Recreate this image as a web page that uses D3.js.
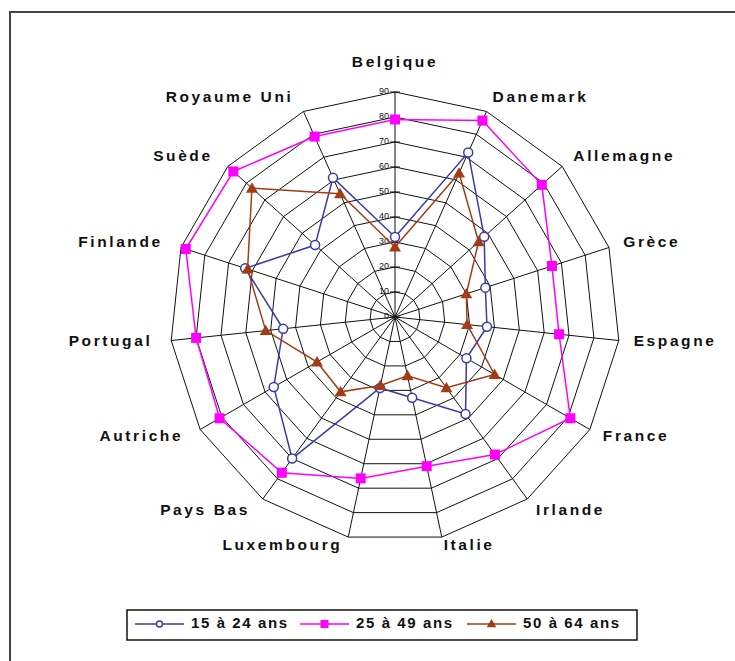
<!DOCTYPE html>
<html><head><meta charset="utf-8">
<script src="https://cdn.jsdelivr.net/npm/d3@7"></script>
<style>body{margin:0;background:#fff}svg{display:block}</style>
</head><body>
<svg id="c" width="735" height="661"></svg>
<script>
const categories = ["Belgique","Danemark","Allemagne","Grèce","Espagne","France","Irlande","Italie","Luxembourg","Pays Bas","Autriche","Portugal","Finlande","Suède","Royaume Uni"];
const s15_24 = [32,72,48,38,37,33,48,33,29,70,56,45,63,43,61];
const s25_49 = [79,86,79,66,66,81,68,61,66,77,81,80,88,87,79];
const s50_64 = [28,63,45,30,29,46,35,24,28,37,36,52,62,77,54];
const tickValues = [0,10,20,30,40,50,60,70,80,90];
const seriesNames = ["15 à 24 ans","25 à 49 ans","50 à 64 ans"];

const svg = d3.select("#c");
const cx = 395, cy = 317;
const r = d3.scaleLinear().domain([0,90]).range([0,225]);
const n = categories.length;
const ang = d3.scaleLinear().domain([0,n]).range([0,2*Math.PI]);
const px = (i,v)=> cx + r(v)*Math.sin(ang(i));
const py = (i,v)=> cy - r(v)*Math.cos(ang(i));

// frame
svg.append("rect").attr("x",10).attr("y",12).attr("width",760).attr("height",700)
  .attr("fill","none").attr("stroke","#444").attr("stroke-width",2);

const g = svg.append("g");
// rings
tickValues.slice(1).forEach(v=>{
  const pts = d3.range(n).map(i=>[px(i,v),py(i,v)]);
  g.append("polygon").attr("points",pts.map(p=>p.join(",")).join(" "))
    .attr("fill","none").attr("stroke","#111").attr("stroke-width",1);
});
// spokes
d3.range(n).forEach(i=>{
  g.append("line").attr("x1",cx).attr("y1",cy).attr("x2",px(i,90)).attr("y2",py(i,90))
    .attr("stroke","#111").attr("stroke-width",1);
});
// ticks + labels on Belgique axis
tickValues.forEach(v=>{
  g.append("line").attr("x1",cx-5).attr("x2",cx+5).attr("y1",cy-r(v)).attr("y2",cy-r(v))
    .attr("stroke","#111").attr("stroke-width",1);
  g.append("text").attr("x",cx-6).attr("y",cy-r(v)).attr("text-anchor","end")
    .attr("dominant-baseline","middle").attr("font-family","Liberation Sans, Arial, sans-serif")
    .attr("font-size",9).attr("fill","#111").text(v);
});

// category labels
categories.forEach((c,i)=>{
  const a = ang(i), s = Math.sin(a), co = Math.cos(a);
  let rr = 240;
  if (i===0) rr = 254;
  if (co < -0.9) rr = 234;
  const x = cx + rr*s, y = cy - rr*co;
  let anchor = "middle";
  let dx = 0;
  if (s > 0.1) anchor = "start";
  else if (s < -0.1) { anchor = "end"; dx = -4; }
  svg.append("text").attr("x",x+dx).attr("y",y).attr("text-anchor",anchor)
    .attr("dominant-baseline","middle")
    .attr("font-family","Liberation Sans, Arial, sans-serif").attr("font-weight","bold")
    .attr("font-size",15.5).attr("letter-spacing","2.6px").attr("fill","#111").text(c);
});

const colors = ["#3a3aae","#ff00ff","#a33c14"];
const data = [s15_24, s25_49, s50_64];
const radial = d3.lineRadial().angle((d,i)=>ang(i)).radius(d=>r(d)).curve(d3.curveLinearClosed);

function marker(sel, k, x, y){
  if (k===0) sel.append("circle").attr("cx",x).attr("cy",y).attr("r",4.5)
    .attr("fill","#fff").attr("stroke",colors[0]).attr("stroke-width",1.5);
  else if (k===1) sel.append("rect").attr("x",x-5).attr("y",y-5).attr("width",10).attr("height",10)
    .attr("fill",colors[1]);
  else sel.append("path").attr("d",d3.symbol().type(d3.symbolTriangle).size(62)())
    .attr("transform",`translate(${x},${y+1})`).attr("fill",colors[2]);
}

data.forEach((vals,k)=>{
  const sg = svg.append("g");
  sg.append("path").attr("d",radial(vals)).attr("transform",`translate(${cx},${cy})`)
    .attr("fill","none").attr("stroke",colors[k]).attr("stroke-width",1.5);
  vals.forEach((v,i)=>marker(sg,k,px(i,v),py(i,v)));
});

// legend
const lg = svg.append("g");
lg.append("rect").attr("x",127).attr("y",610).attr("width",510).attr("height",30)
  .attr("fill","#fff").attr("stroke","#111").attr("stroke-width",1.5);
const lx = [135,300,467];
seriesNames.forEach((nm,k)=>{
  const y = 624;
  lg.append("line").attr("x1",lx[k]).attr("x2",lx[k]+49).attr("y1",y).attr("y2",y)
    .attr("stroke",colors[k]).attr("stroke-width",1.5);
  if (k===0) lg.append("circle").attr("cx",lx[k]+24.5).attr("cy",y).attr("r",3)
    .attr("fill","#fff").attr("stroke",colors[0]).attr("stroke-width",1.5);
  else if (k===1) lg.append("rect").attr("x",lx[k]+20.5).attr("y",y-4).attr("width",8).attr("height",8).attr("fill",colors[1]);
  else lg.append("path").attr("d",d3.symbol().type(d3.symbolTriangle).size(40)())
    .attr("transform",`translate(${lx[k]+24.5},${y+0.5})`).attr("fill",colors[2]);
  lg.append("text").attr("x",lx[k]+56).attr("y",y).attr("dominant-baseline","middle")
    .attr("font-family","Liberation Sans, Arial, sans-serif").attr("font-weight","bold")
    .attr("font-size",15).attr("letter-spacing","1.6px").attr("fill","#111").text(nm);
});
</script>
</body></html>
